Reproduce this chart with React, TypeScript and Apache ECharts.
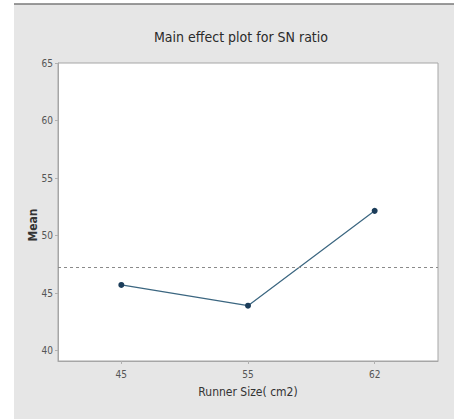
import React, { useEffect, useRef } from "react";
import * as echarts from "echarts";

const categories = ["45", "55", "62"];
const meanValues = [45.71, 43.91, 52.15];
const overallMean = 47.26;
const yTicks = [40, 45, 50, 55, 60, 65];
const yMin = 39.1;
const yMax = 65;

const FONT = "'Liberation Sans Narrow', 'DejaVu Sans Condensed', 'Liberation Sans', sans-serif";

export default function App() {
  const ref = useRef<HTMLDivElement>(null);
  useEffect(() => {
    document.body.style.margin = "0";
    const chart = echarts.init(ref.current!, null, { renderer: "svg" });
    chart.setOption({
      animation: false,
      backgroundColor: "#ffffff",
      title: {
        text: "Main effect plot for SN ratio",
        left: 236,
        top: 25,
        textAlign: "center",
        textStyle: { fontFamily: FONT, fontSize: 14, fontWeight: "normal", color: "#2a2a2a" },
      },
      graphic: [
        { type: "rect", z: -10, shape: { x: 14, y: 4, width: 440, height: 415 }, style: { fill: "#e6e6e6" } },
        { type: "line", z: -9, shape: { x1: 14, y1: 4, x2: 454, y2: 4 }, style: { stroke: "#7a7a7a", lineWidth: 1.5 } },
        {
          type: "text",
          x: 33,
          y: 225,
          rotation: Math.PI / 2,
          style: {
            text: "Mean",
            fontFamily: FONT,
            fontSize: 12,
            fontWeight: "bold",
            fill: "#333",
            align: "center",
            verticalAlign: "middle",
          },
        },
      ],
      grid: {
        left: 58,
        right: 16,
        top: 63,
        bottom: 58,
        show: true,
        backgroundColor: "#ffffff",
        borderColor: "#a6a6a6",
        borderWidth: 1,
      },
      xAxis: {
        type: "category",
        data: categories,
        boundaryGap: true,
        name: "Runner Size( cm2)",
        nameLocation: "middle",
        nameGap: 25,
        nameTextStyle: { fontFamily: FONT, fontSize: 12, color: "#333" },
        axisLine: { show: true, lineStyle: { color: "#a6a6a6" } },
        axisTick: { show: true, alignWithLabel: true, length: 3, lineStyle: { color: "#b0b0b0" } },
        axisLabel: { fontFamily: FONT, fontSize: 10, color: "#555", margin: 8 },
      },
      yAxis: {
        type: "value",
        min: yMin,
        max: yMax,
        splitLine: { show: false },
        axisLine: { show: true, lineStyle: { color: "#a6a6a6" } },
        axisTick: { show: true, length: 3, customValues: yTicks, lineStyle: { color: "#b0b0b0" } },
        axisLabel: { fontFamily: FONT, fontSize: 10, color: "#555", margin: 5, customValues: yTicks },
      },
      series: [
        {
          type: "line",
          data: meanValues,
          symbol: "circle",
          symbolSize: 6,
          lineStyle: { color: "#3b6680", width: 1.2 },
          itemStyle: { color: "#1c3d5a" },
          markLine: {
            silent: true,
            symbol: ["none", "none"],
            label: { show: false },
            lineStyle: { color: "#8a8a8a", type: [3, 3], width: 1 },
            data: [{ yAxis: overallMean }],
          },
        },
      ],
    });
    return () => chart.dispose();
  }, []);
  return <div ref={ref} style={{ width: 454, height: 419 }} />;
}
